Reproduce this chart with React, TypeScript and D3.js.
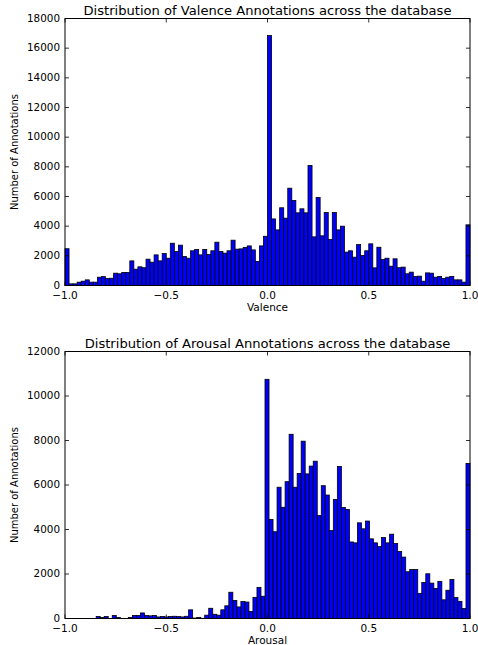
import React from "react";
import * as d3 from "d3";

// ---------- DATA ----------
const valenceCounts = [
  2480, 110, 110, 225, 290, 380, 225, 225, 560, 600,
  470, 490, 830, 790, 880, 880, 1660, 1100, 1260, 1200,
  1775, 1570, 2065, 1660, 2160, 1840, 2850, 2290, 2720, 1955,
  1840, 2340, 2430, 2065, 2430, 2090, 2340, 2920, 2290, 2180,
  2340, 3055, 2450, 2470, 2560, 2670, 2400, 1620, 2670, 3320,
  16850, 4490, 3750, 5240, 4540, 6560, 5730, 4900, 5170, 4900,
  8090, 3280, 5930, 3350, 4920, 3100, 4920, 3750, 4000, 2250,
  2340, 1910, 2760, 2020, 2340, 2810, 1190, 2580, 1750, 1840,
  1300, 1800, 1200, 1240, 790, 900, 610, 630, 290, 850,
  830, 560, 610, 470, 560, 610, 380, 380, 225, 4090,
];

const arousalCounts = [
  0, 0, 0, 0, 0, 0, 0, 90, 45, 90,
  0, 135, 45, 0, 0, 45, 135, 135, 250, 135,
  120, 135, 70, 90, 70, 90, 100, 90, 70, 100,
  390, 20, 50, 10, 150, 460, 190, 150, 390, 570,
  1180, 810, 520, 760, 740, 320, 950, 1400, 1000, 10750,
  4450, 3900, 5900, 5000, 6150, 8280, 5900, 6520, 7970, 6500,
  6850, 7070, 4630, 5970, 5550, 3950, 5350, 6830, 4990, 4900,
  3440, 3400, 4300, 4030, 4380, 3580, 3400, 3230, 3640, 3400,
  3790, 3370, 3010, 2760, 2100, 2200, 2200, 1120, 1620, 2010,
  1590, 1350, 1670, 840, 1270, 1750, 940, 770, 450, 6970,
];

const valenceBinRange = [-1, 1];
const arousalBinRange = [-0.985, 1];
const xDomain = [-1, 1];
const xTicks = [-1, -0.5, 0, 0.5, 1];
const valenceYTicks = [0, 2000, 4000, 6000, 8000, 10000, 12000, 14000, 16000, 18000];
const arousalYTicks = [0, 2000, 4000, 6000, 8000, 10000, 12000];

const FONT = "DejaVu Sans, sans-serif";

type HistProps = {
  title: string;
  xLabel: string;
  counts: number[];
  binRange: number[];
  yTicks: number[];
  top: number;
};

function fmtX(v: number) {
  const s = Math.abs(v).toFixed(1);
  return v < 0 ? "\u2212" + s : s;
}

function Histogram({ title, xLabel, counts, binRange, yTicks, top }: HistProps) {
  const left = 65;
  const right = 470;
  const height = 267;
  const bottom = top + height;
  const x = d3.scaleLinear().domain(xDomain).range([left, right]);
  const y = d3.scaleLinear().domain([0, yTicks[yTicks.length - 1]]).range([bottom, top]);
  const n = counts.length;
  const w = (binRange[1] - binRange[0]) / n;
  const tickLen = 4;

  return (
    <g>
      <text x={(left + right) / 2} y={top - 4} textAnchor="middle" fontFamily={FONT} fontSize={13.1} fill="#000">
        {title}
      </text>
      {counts.map((c, i) => {
        if (c <= 0) return null;
        const x0 = x(binRange[0] + i * w);
        const x1 = x(binRange[0] + (i + 1) * w);
        return (
          <rect
            key={i}
            x={x0}
            y={y(c)}
            width={x1 - x0}
            height={y(0) - y(c)}
            fill="#0000ff"
            stroke="#000"
            strokeWidth={0.8}
          />
        );
      })}
      {/* spines */}
      <rect x={left} y={top} width={right - left} height={height} fill="none" stroke="#000" strokeWidth={1} />
      {/* x ticks */}
      {xTicks.map((t) => (
        <g key={"x" + t}>
          <line x1={x(t)} x2={x(t)} y1={bottom} y2={bottom - tickLen} stroke="#000" strokeWidth={0.8} />
          <line x1={x(t)} x2={x(t)} y1={top} y2={top + tickLen} stroke="#000" strokeWidth={0.8} />
          <text x={x(t)} y={bottom + 13} textAnchor="middle" fontFamily={FONT} fontSize={10.5} fill="#000">
            {fmtX(t)}
          </text>
        </g>
      ))}
      {/* y ticks */}
      {yTicks.map((t) => (
        <g key={"y" + t}>
          <line x1={left} x2={left + tickLen} y1={y(t)} y2={y(t)} stroke="#000" strokeWidth={0.8} />
          <line x1={right} x2={right - tickLen} y1={y(t)} y2={y(t)} stroke="#000" strokeWidth={0.8} />
          <text x={left - 5} y={y(t) + 3} textAnchor="end" fontFamily={FONT} fontSize={10.4} fill="#000">
            {t}
          </text>
        </g>
      ))}
      <text x={(left + right) / 2} y={bottom + 25} textAnchor="middle" fontFamily={FONT} fontSize={10.5} fill="#000">
        {xLabel}
      </text>
      <text
        transform={`translate(18,${(top + bottom) / 2}) rotate(-90)`}
        textAnchor="middle"
        fontFamily={FONT}
        fontSize={10}
        fill="#000"
        textLength={116}
        lengthAdjust="spacingAndGlyphs"
      >
        Number of Annotations
      </text>
    </g>
  );
}

export default function App() {
  return (
    <svg
      width={478}
      height={645}
      style={{ position: "absolute", left: 0, top: 0, background: "#fff" }}
    >
      <rect x={0} y={0} width={478} height={645} fill="#fff" />
      <Histogram
        title="Distribution of Valence Annotations across the database"
        xLabel="Valence"
        counts={valenceCounts}
        binRange={valenceBinRange}
        yTicks={valenceYTicks}
        top={18.5}
      />
      <Histogram
        title="Distribution of Arousal Annotations across the database"
        xLabel="Arousal"
        counts={arousalCounts}
        binRange={arousalBinRange}
        yTicks={arousalYTicks}
        top={351.5}
      />
    </svg>
  );
}
